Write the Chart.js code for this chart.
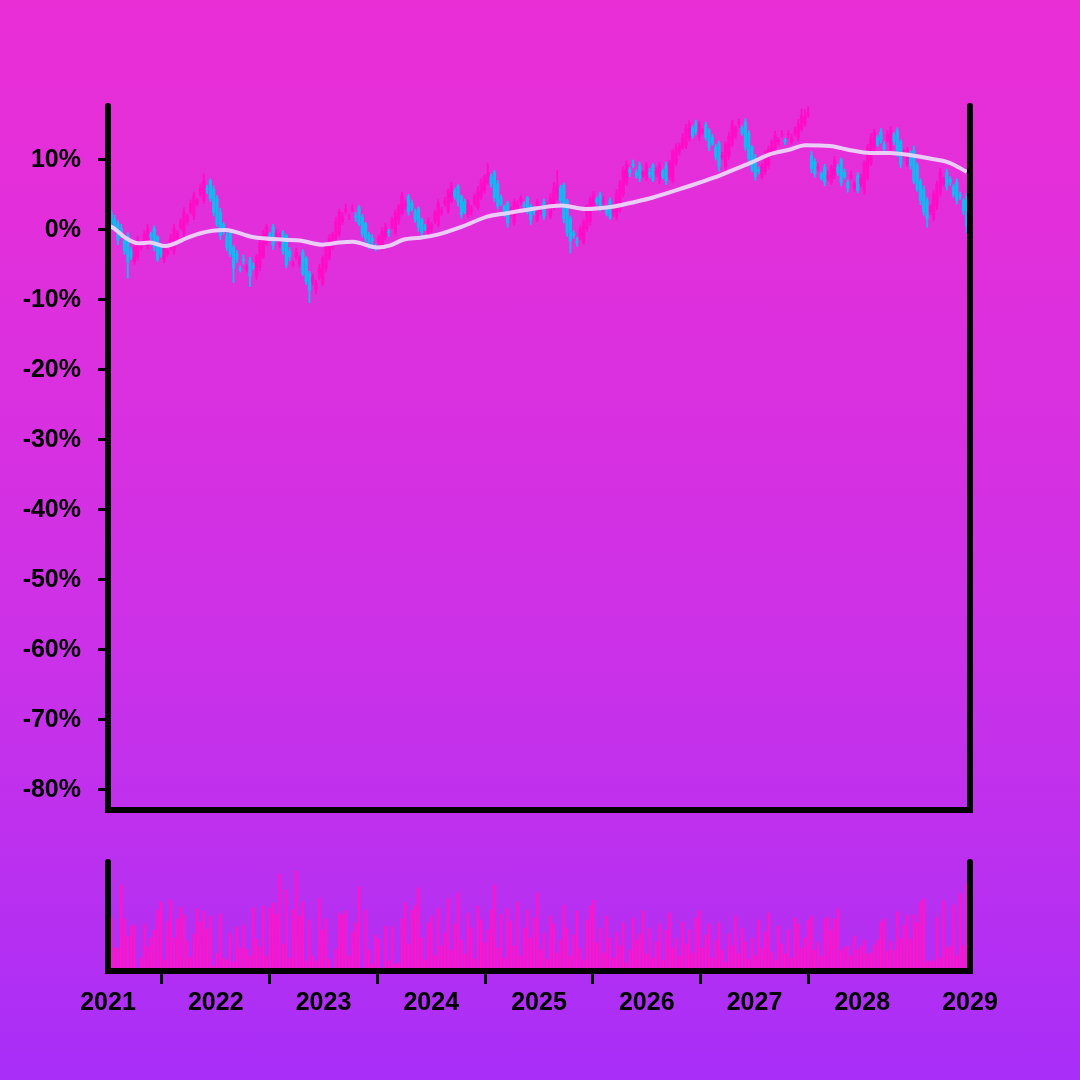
<!DOCTYPE html>
<html><head><meta charset="utf-8">
<script src="https://cdn.jsdelivr.net/npm/chart.js@4"></script>
<style>
html,body{margin:0;padding:0;width:1080px;height:1080px;overflow:hidden}
body{background:linear-gradient(180deg,#ea2ed6 0%,#e02fdc 25%,#cf31e6 55%,#bb30ef 80%,#a82ef8 100%);}
canvas{position:absolute;left:0}
#c1{top:0}
#c2{top:830px}
</style></head><body>
<canvas id="c1" width="1080" height="842"></canvas>
<canvas id="c2" width="1080" height="250"></canvas>
<script>
// ---- data (percent change), weekly-ish sampled candles 2021-2029 ----
const startYear = 2021, endYear = 2029;
const yearTicks = [2021,2022,2023,2024,2025,2026,2027,2028,2029];
const pctTicks = [-80,-70,-60,-50,-40,-30,-20,-10,0,10];

const open = [
2.4,1.6,1.0,0.2,-1.5,-0.8,-3.0,-4.6,-3.8,-2.5,
-1.6,-2.2,-0.6,0.2,-1.0,-2.4,-4.2,-3.5,-2.5,-3.0,
-1.2,0.3,-0.4,1.2,2.6,2.0,3.8,5.0,4.2,6.0,
7.0,5.8,4.5,2.5,0.8,-0.8,-0.2,-2.5,-3.4,-5.5,
-4.2,-5.6,-4.3,-5.2,-6.6,-5.4,-3.8,-1.8,-0.6,0.4,
-1.0,-2.2,-0.4,-0.8,-3.0,-5.0,-3.8,-4.8,-3.2,-4.0,
-6.2,-7.4,-8.6,-6.8,-7.6,-5.5,-4.0,-2.4,-1.2,-0.6,
1.2,2.6,2.0,3.0,2.0,3.2,1.8,0.9,-0.6,-1.2,
-2.4,-1.6,-2.6,-1.0,-0.2,0.4,-0.4,1.4,2.4,3.4,
4.8,3.8,2.6,3.0,1.5,0.4,-0.4,0.2,1.2,0.8,
2.4,3.8,2.8,4.2,5.6,6.2,4.8,4.0,2.2,2.6,
3.8,3.2,4.8,5.6,6.8,7.6,8.2,6.6,4.6,3.4,
3.8,2.4,1.0,2.8,4.0,3.6,4.6,3.4,2.8,1.4,
2.6,4.0,3.2,2.0,3.4,4.6,6.0,6.4,4.2,1.6,
-0.4,-1.6,-0.8,-1.8,0.2,1.2,3.0,4.4,5.0,4.0,
3.2,4.2,2.4,1.8,2.8,5.2,6.8,8.6,9.4,8.2,
9.2,7.8,7.4,8.2,9.2,8.0,7.2,8.4,9.2,7.6,
7.0,9.6,11.2,11.8,12.0,13.2,14.6,15.2,13.4,14.0,
15.0,14.2,13.2,11.8,12.4,10.4,9.0,10.6,12.2,13.4,
15.2,14.6,15.4,13.8,11.8,10.2,8.6,7.6,8.4,9.2,
10.8,11.6,12.6,13.6,12.8,13.6,12.6,13.8,13.2,14.4,
15.2,16.4,10.6,9.8,8.8,8.0,9.0,7.4,6.8,7.8,
9.0,10.0,8.2,6.8,7.6,6.0,7.8,6.6,5.6,7.4,
9.6,11.8,13.2,14.0,12.2,12.8,11.6,13.6,14.2,12.6,
10.8,9.4,11.0,11.4,9.2,7.0,5.8,4.2,2.6,1.6,
3.4,5.2,6.6,8.2,7.2,6.2,6.8,5.0,4.2,4.8
];
const close = [
1.0,0.2,-1.5,-0.8,-3.0,-4.6,-3.8,-2.5,-1.6,-2.2,
-0.6,0.2,-1.0,-2.4,-4.2,-3.5,-2.5,-3.0,-1.2,0.3,
-0.4,1.2,2.6,2.0,3.8,5.0,4.2,6.0,7.0,5.8,
4.5,2.5,0.8,-0.8,-0.2,-2.5,-3.4,-5.5,-4.2,-5.6,
-4.3,-5.2,-6.6,-5.4,-3.8,-1.8,-0.6,0.4,-1.0,-2.2,
-0.4,-0.8,-3.0,-5.0,-3.8,-4.8,-3.2,-4.0,-6.2,-7.4,
-8.6,-6.8,-7.6,-5.5,-4.0,-2.4,-1.2,-0.6,1.2,2.6,
2.0,3.0,2.0,3.2,1.8,0.9,-0.6,-1.2,-2.4,-1.6,
-2.6,-1.0,-0.2,0.4,-0.4,1.4,2.4,3.4,4.8,3.8,
2.6,3.0,1.5,0.4,-0.4,0.2,1.2,0.8,2.4,3.8,
2.8,4.2,5.6,6.2,4.8,4.0,2.2,2.6,3.8,3.2,
4.8,5.6,6.8,7.6,8.2,6.6,4.6,3.4,3.8,2.4,
1.0,2.8,4.0,3.6,4.6,3.4,2.8,1.4,2.6,4.0,
3.2,2.0,3.4,4.6,6.0,6.4,4.2,1.6,-0.4,-1.6,
-0.8,-1.8,0.2,1.2,3.0,4.4,5.0,4.0,3.2,4.2,
2.4,1.8,2.8,5.2,6.8,8.6,9.4,8.2,9.2,7.8,
7.4,8.2,9.2,8.0,7.2,8.4,9.2,7.6,7.0,9.6,
11.2,11.8,12.0,13.2,14.6,15.2,13.4,14.0,15.0,14.2,
13.2,11.8,12.4,10.4,9.0,10.6,12.2,13.4,15.2,14.6,
15.4,13.8,11.8,10.2,8.6,7.6,8.4,9.2,10.8,11.6,
12.6,13.6,12.8,13.6,12.6,13.8,13.2,14.4,15.2,16.4,
16.2,16.8,8.8,8.0,9.0,7.4,6.8,7.8,9.0,10.0,
8.2,6.8,7.6,6.0,7.8,6.6,5.6,7.4,9.6,11.8,
13.2,14.0,12.2,12.8,11.6,13.6,14.2,12.6,10.8,9.4,
11.0,11.4,9.2,7.0,5.8,4.2,2.6,1.6,3.4,5.2,
6.6,8.2,7.2,6.2,6.8,5.0,4.2,4.8,2.8,0.6
];
const wickUp = [
.4,.5,.3,.6,.2,.4,.5,.3,.7,.4, .5,.6,.3,.4,.2,.5,.4,.3,.6,.5,
.3,.4,.6,.3,.5,.4,.3,.6,1.0,.4, .3,.5,.4,.6,.3,.4,.2,.3,.5,.4,
.6,.3,.4,.5,.3,.6,.5,.4,.3,.4, .5,.4,.3,.2,.5,.4,.6,.3,.4,.2,
.3,.5,.4,.6,.3,.4,.5,.3,.6,.4, .5,.7,.3,.4,.5,.3,.4,.2,.3,.5,
.4,.3,.5,.6,.3,.4,.5,.3,.6,.4, .3,.5,.4,.3,.2,.4,.5,.3,.4,.6,
.4,.5,.3,.6,.4,.3,.2,.4,.5,.3, .4,.6,.5,.3,1.3,.4,.3,.5,.4,.2,
.3,.5,.4,.6,.3,.4,.2,.3,.5,.4, .3,.4,.5,.6,.8,2.1,.4,.3,.2,.4,
.3,.5,.4,.3,.6,.4,.5,.3,.4,.6, .3,.4,.5,.6,.3,.4,.5,.3,.6,.4,
.5,.3,.4,.6,.3,.5,.4,.3,.5,.4, .3,.5,.4,.6,.5,.4,.3,.5,.4,.3,
.4,.3,.5,.4,.3,.5,.4,.6,.5,.3, .4,.3,.5,.4,.3,.6,.4,.3,.5,.4,
.3,.5,.4,.6,.3,.4,.5,.3,.6,.9, 1.0,.8,.6,.4,.5,.3,.4,.6,.3,.5,
.4,.3,.5,.4,.6,.3,.4,.5,.3,.4, .6,.4,.3,.5,.4,.6,.5,.3,.4,.3,
.5,.4,.3,.6,.4,.3,.5,.4,.3,.5, .4,.6,.3,.5,.4,.3,.5,.4,.3,.4
];
const wickDown = [
.5,.4,.6,.3,.5,2.3,.4,.3,.5,.4, .3,.5,.4,.6,.3,.4,.5,.3,.4,.5,
.4,.3,.5,.4,.3,.5,.4,.3,.4,.6, .4,.5,.3,.6,.4,.5,.4,2.0,.5,.4,
.6,.4,1.5,.3,.5,.4,.3,.4,.5,.6, .4,.3,.5,.4,.6,.3,.4,.5,.3,.4,
1.8,.4,.5,.3,.4,.5,.3,.4,.5,.3, .4,.3,.5,.4,.6,.3,.4,.5,.3,.6,
.4,.5,.3,.4,.5,.3,.4,.6,.3,.4, .5,.3,.4,.6,.5,.3,.4,.5,.3,.4,
.3,.4,.5,.3,.4,.6,.5,.3,.4,.5, .4,.3,.5,.4,.3,.5,.6,.4,.3,.5,
.6,.4,.3,.5,.4,.3,.5,.6,.4,.3, .4,.5,.3,.4,.5,.3,.4,.6,.5,1.7,
.4,.5,.6,.3,.4,.5,.3,.4,.5,.3, .4,.3,.5,.4,.3,.5,.4,.6,.3,.4,
.5,.3,.4,.5,.3,.4,.6,.3,.5,.4, .3,.4,.5,.3,.4,.5,.3,.4,.6,.3,
.4,.5,.3,.4,.6,.3,.4,.5,.3,.4, .5,.3,.4,.6,.3,.5,.4,.3,.5,.4,
.3,.4,.5,.3,.4,.5,.3,.4,.5,.3, .4,.3,.6,.5,.4,.3,.5,.4,.3,.5,
.4,.5,.3,.6,.4,.5,.3,.4,.5,.3, .4,.5,.3,.4,.6,.3,.5,.4,.3,.5,
.4,.3,.5,.4,.3,.6,.5,1.2,.4,.3, .5,.4,.3,.5,.4,.3,.5,.4,.6,1.0
];
const volume = [
50,20,20,83,49,32,42,43,0,10, 44,21,30,38,58,66,8,47,68,30,
49,61,53,27,11,34,59,46,57,39, 52,2,15,54,10,8,35,6,41,20,
43,19,12,60,29,21,62,12,60,65, 54,94,24,78,10,58,97,52,66,7,
48,12,7,69,38,49,9,0,19,55, 53,57,12,36,45,81,0,58,18,4,
33,29,0,42,7,41,4,5,49,65, 24,58,62,80,30,8,45,52,12,60,
22,35,70,18,44,75,28,14,55,40, 9,62,48,25,38,58,83,20,54,10,
60,47,22,66,12,40,58,30,50,75, 18,35,9,52,44,15,28,63,40,12,
33,57,20,8,48,62,68,25,40,15, 52,30,10,36,22,45,5,18,50,28,
34,57,14,40,10,26,44,8,38,55, 20,30,12,46,24,38,15,50,57,20,
33,44,10,28,45,18,6,34,22,52, 14,40,26,9,30,12,48,20,36,55,
16,8,42,24,14,38,10,50,44,20, 30,48,52,18,26,12,49,51,38,49,
59,17,21,22,12,32,18,22,28,14, 15,23,28,46,49,17,27,18,56,29,
43,53,29,53,45,66,69,7,7,7, 51,10,67,20,22,63,12,75,22,84
];
// moving average line (year, %)
const maYears = [2021.0,2021.04,2021.16,2021.28,2021.39,2021.53,2021.74,2021.85,2021.97,2022.09,2022.34,2022.64,2022.78,2022.99,2023.15,2023.27,2023.5,2023.62,2023.74,2023.9,2024.05,2024.29,2024.52,2024.7,2024.98,2025.21,2025.43,2025.71,2025.89,2026.05,2026.36,2026.63,2026.82,2026.98,2027.14,2027.33,2027.47,2027.7,2027.89,2028.07,2028.26,2028.44,2028.63,2028.81,2028.97];
const maValues = [0.6,0.4,-1.1,-1.9,-1.8,-2.3,-1.1,-0.5,-0.1,0.0,-1.0,-1.4,-1.5,-2.1,-1.8,-1.7,-2.5,-2.2,-1.4,-1.1,-0.7,0.5,1.9,2.4,3.1,3.5,3.0,3.4,4.0,4.6,6.1,7.5,8.7,9.7,10.8,11.5,12.1,12.0,11.4,11.0,11.0,10.7,10.2,9.6,8.3];

// ---- build ----
const N = close.length;
const times = close.map((_, i) => startYear + (i + 1) * (endYear - startYear) / (N + 1));
const UP = '#ff0cc8', DOWN = '#12b8f2';
const colors = close.map((c, i) => c >= open[i] ? UP : DOWN);
const bodyData = close.map((c, i) => ({x: times[i], y: [open[i], c]}));
const wickData = close.map((c, i) => ({x: times[i], y: [Math.min(open[i], c) - wickDown[i], Math.max(open[i], c) + wickUp[i]]}));
const maData = maYears.map((t, i) => ({x: t, y: maValues[i]}));
const volData = volume.map((v, i) => ({x: times[i], y: v}));

Chart.defaults.font.family = "'Liberation Sans', Arial, sans-serif";
Chart.defaults.color = '#000';

const spines = {
  id: 'spines',
  afterDraw(chart) {
    const {ctx, chartArea: a} = chart;
    ctx.save();
    ctx.strokeStyle = '#000';
    ctx.lineWidth = 6;
    ctx.lineCap = 'round';
    ctx.lineJoin = 'miter';
    ctx.beginPath();
    ctx.moveTo(a.left, a.top);
    ctx.lineTo(a.left, a.bottom);
    ctx.lineTo(a.right, a.bottom);
    ctx.lineTo(a.right, a.top);
    ctx.stroke();
    ctx.restore();
  }
};
const tickFont = {family: "'Liberation Sans', Arial, sans-serif", size: 25, weight: 'bold'};

new Chart(document.getElementById('c1'), {
  type: 'bar',
  data: {
    datasets: [
      {type: 'line', data: maData, borderColor: 'rgba(234,214,250,0.95)', borderWidth: 4, pointRadius: 0, cubicInterpolationMode: 'monotone', order: 1},
      {data: bodyData, backgroundColor: colors, barThickness: 2.6, grouped: false, order: 2},
      {data: wickData, backgroundColor: colors, barThickness: 1.2, grouped: false, order: 3}
    ]
  },
  options: {
    responsive: false, animation: false, events: [],
    layout: {padding: {top: 106, right: 110, bottom: 8, left: 0}},
    plugins: {legend: {display: false}, tooltip: {enabled: false}},
    scales: {
      x: {type: 'linear', min: startYear, max: endYear, offset: false, display: false},
      y: {
        min: -82.86, max: 17.71,
        afterBuildTicks: s => { s.ticks = pctTicks.map(v => ({value: v})); },
        afterFit: s => { s.width = 108; },
        ticks: {callback: v => v + '%', font: tickFont, color: '#000', padding: 17},
        grid: {drawOnChartArea: false, drawTicks: true, tickLength: 10, tickWidth: 3, tickColor: '#000'},
        border: {display: false}
      }
    }
  },
  plugins: [spines]
});

new Chart(document.getElementById('c2'), {
  type: 'bar',
  data: {datasets: [{data: volData, backgroundColor: '#ff14c8', barThickness: 1.8}]},
  options: {
    responsive: false, animation: false, events: [],
    layout: {padding: {top: 32, right: 110, bottom: 0, left: 108}},
    plugins: {legend: {display: false}, tooltip: {enabled: false}},
    scales: {
      x: {
        type: 'linear', min: startYear, max: endYear, offset: false,
        afterBuildTicks: s => { s.ticks = yearTicks.map(v => ({value: v})); },
        afterFit: s => { s.height = 109; },
        ticks: {callback: v => String(v), font: tickFont, color: '#000', padding: 4, maxRotation: 0, autoSkip: false},
        grid: {drawOnChartArea: false, drawTicks: true, tickLength: 13, tickWidth: 3,
               tickColor: c => (c.index === 0 || c.index === yearTicks.length - 1) ? 'rgba(0,0,0,0)' : '#000'},
        border: {display: false}
      },
      y: {display: false, min: -3, max: 106}
    }
  },
  plugins: [spines]
});
</script>
</body></html>
